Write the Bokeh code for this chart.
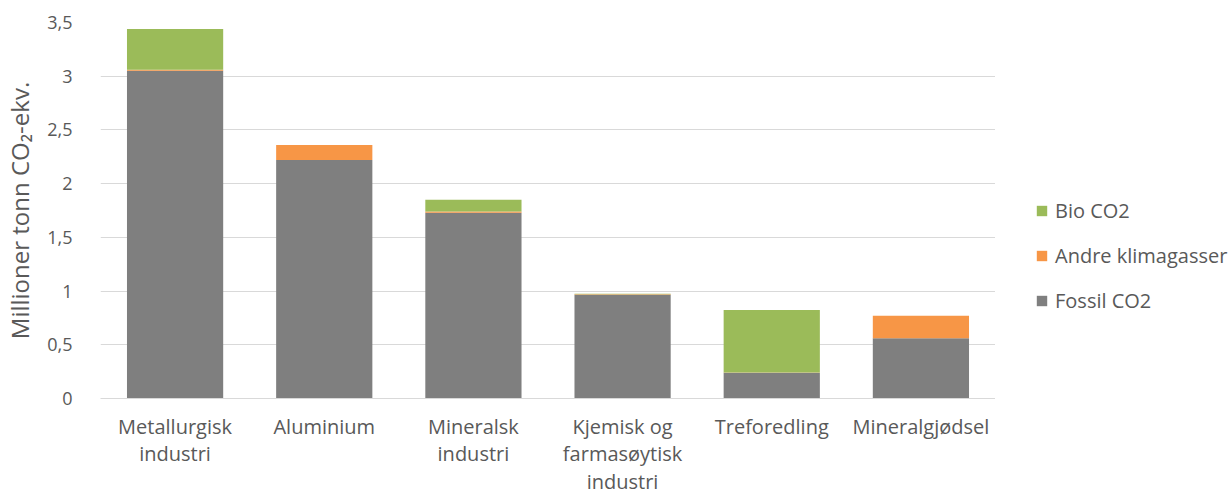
from bokeh.plotting import figure
from bokeh.layouts import row
from bokeh.models import FixedTicker, Legend, LegendItem, ColumnDataSource, FactorRange
from bokeh.embed import file_html
from bokeh.resources import INLINE

categories = ["Metallurgisk\nindustri", "Aluminium", "Mineralsk\nindustri",
              "Kjemisk og\nfarmasøytisk\nindustri", "Treforedling", "Mineralgjødsel"]
fossil = [3.05, 2.22, 1.73, 0.965, 0.24, 0.56]
andre = [0.01, 0.14, 0.01, 0.005, 0.003, 0.21]
bio = [0.38, 0.0, 0.11, 0.005, 0.58, 0.0]
series = ["Fossil CO2", "Andre klimagasser", "Bio CO2"]
colors = ["#7f7f7f", "#f79646", "#9bbb59"]
y_ticks = [0, 0.5, 1, 1.5, 2, 2.5, 3, 3.5]
y_tick_labels = ["0", "0,5", "1", "1,5", "2", "2,5", "3", "3,5"]

FONT = "Open Sans"
TXT = "#595959"

src = ColumnDataSource(dict(cat=categories, fossil=fossil, andre=andre, bio=bio))

p = figure(width=995, height=497, x_range=FactorRange(*categories), y_range=(0, 3.5),
           output_backend="svg", toolbar_location=None,
           min_border_left=100, min_border_right=0, min_border_top=22, min_border_bottom=97)
p.outline_line_color = None
p.x_range.range_padding = 0.0
p.x_range.factor_padding = 0.0

p.vbar_stack(["fossil", "andre", "bio"], x="cat", width=0.645, source=src,
             color=colors, line_color=None)

p.ygrid.ticker = FixedTicker(ticks=y_ticks)
p.ygrid.grid_line_color = "#d9d9d9"
p.ygrid.grid_line_width = 1
p.xgrid.grid_line_color = None

p.yaxis.ticker = FixedTicker(ticks=y_ticks)
p.yaxis.major_label_overrides = {t: l for t, l in zip(y_ticks, y_tick_labels)}
p.yaxis.axis_line_color = None
p.yaxis.major_tick_line_color = None
p.yaxis.minor_tick_line_color = None
p.yaxis.major_label_text_font = FONT
p.yaxis.major_label_text_font_size = "18px"
p.yaxis.major_label_text_color = TXT
p.yaxis.major_label_standoff = 22
p.yaxis.axis_label = "Millioner tonn CO₂-ekv."
p.yaxis.axis_label_text_font = FONT
p.yaxis.axis_label_text_font_size = "24px"
p.yaxis.axis_label_text_font_style = "normal"
p.yaxis.axis_label_text_color = TXT
p.yaxis.axis_label_standoff = 8

p.xaxis.axis_line_color = "#d9d9d9"
p.xaxis.major_tick_line_color = None
p.xaxis.minor_tick_line_color = None
p.xaxis.major_label_text_font = FONT
p.xaxis.major_label_text_font_size = "20px"
p.xaxis.major_label_text_color = TXT
p.xaxis.major_label_standoff = 8
p.xaxis.major_label_text_line_height = 1.02

# legend panel
lg = figure(width=237, height=497, x_range=(0, 1), y_range=(0, 1),
            output_backend="svg", toolbar_location=None,
            min_border=0)
lg.outline_line_color = None
lg.axis.visible = False
lg.grid.visible = False
off = ColumnDataSource(dict(x=[10], top=[10]))
lr = [lg.vbar(x="x", top="top", width=0.1, source=off, color=c, line_color=None)
      for c in colors]
legend = Legend(items=[LegendItem(label=series[2], renderers=[lr[2]]),
                       LegendItem(label=series[1], renderers=[lr[1]]),
                       LegendItem(label=series[0], renderers=[lr[0]])],
                location=(40, 84), border_line_color=None, background_fill_alpha=0,
                padding=0, margin=0, spacing=18, glyph_width=13, glyph_height=13,
                label_height=22, label_standoff=7, label_text_font=FONT,
                label_text_font_size="20px", label_text_color=TXT)
lg.add_layout(legend, "center")

layout = row(p, lg, spacing=0)
open("out.html", "w").write(file_html(layout, INLINE))
